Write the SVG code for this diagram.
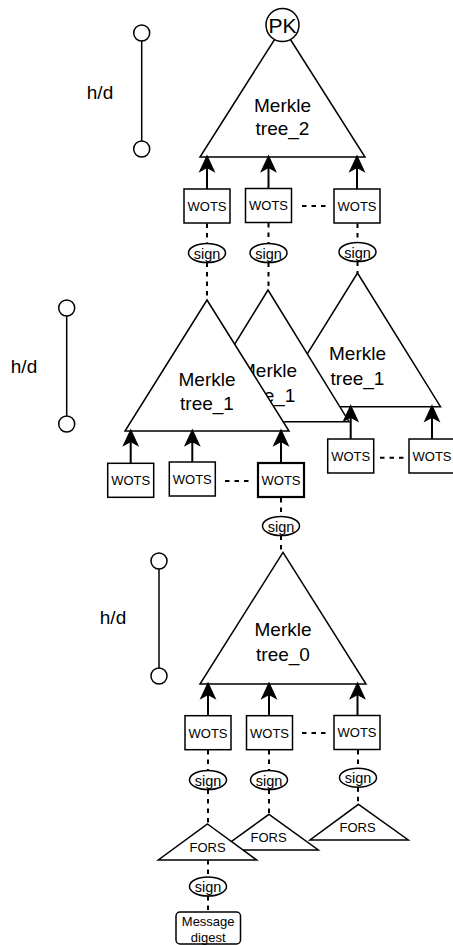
<svg xmlns="http://www.w3.org/2000/svg" width="453" height="945" viewBox="0 0 453 945">
<style>
.tri{fill:#fff;stroke:#000;stroke-width:1.5;stroke-linejoin:miter}
.box{fill:#fff;stroke:#000;stroke-width:1.5}
.box2{fill:#fff;stroke:#000;stroke-width:2.2}
.t{font-family:"Liberation Sans",Arial,Helvetica,sans-serif;text-anchor:middle;dominant-baseline:central;fill:#000}
.m{font-size:19px}
.w{font-size:13px}
.s{font-size:14.5px}
.pk{font-size:21px}
.arr{stroke:#000;stroke-width:2;fill:none;marker-end:url(#ah)}
.dash{stroke:#000;stroke-width:2;stroke-dasharray:4.5 5;fill:none}
.hd{stroke:#000;stroke-width:1.5}
.dot{fill:#fff;stroke:#000;stroke-width:1.5}
.sg{fill:#fff;stroke:#000;stroke-width:1.5}
</style>
<defs>
<marker id="ah" markerUnits="userSpaceOnUse" markerWidth="20" markerHeight="20" viewBox="-6 -8 18 16" refX="0" refY="0" orient="auto">
<path d="M10,0 L-4,-6.5 L-0.5,0 L-4,6.5 Z" fill="#000" stroke="#000" stroke-width="1"/>
</marker>
</defs>
<rect width="453" height="945" fill="#fff"/>

<!-- height indicators -->
<g id="hd1">
<line class="hd" x1="141.7" y1="33" x2="141.7" y2="149"/>
<circle class="dot" cx="141.7" cy="33" r="8"/>
<circle class="dot" cx="141.7" cy="149" r="8"/>
<text class="t m" x="100" y="92">h/d</text>
</g>
<g id="hd2">
<line class="hd" x1="66.7" y1="308" x2="66.7" y2="424"/>
<circle class="dot" cx="66.7" cy="308" r="8"/>
<circle class="dot" cx="66.7" cy="424" r="8"/>
<text class="t m" x="24" y="366">h/d</text>
</g>
<g id="hd3">
<line class="hd" x1="159" y1="561" x2="159" y2="676"/>
<circle class="dot" cx="159" cy="561" r="8"/>
<circle class="dot" cx="159" cy="676" r="8"/>
<text class="t m" x="113" y="617">h/d</text>
</g>

<!-- Layer 2 -->
<g id="tree2">
<polygon class="tri" points="282.5,27 365,157 200,157"/>
<text class="t m" x="282.5" y="105">Merkle</text>
<text class="t m" x="282.5" y="128">tree_2</text>
</g>
<g id="pk">
<circle class="dot" cx="282.5" cy="25" r="16.5"/>
<text class="t pk" x="282.5" y="25.5">PK</text>
</g>
<g id="wots2a"><rect class="box" x="184" y="189" width="46" height="34"/><text class="t w" x="207" y="206.5">WOTS</text></g>
<g id="wots2b"><rect class="box" x="245.5" y="188.5" width="46" height="34"/><text class="t w" x="268.5" y="205.5">WOTS</text></g>
<g id="wots2c"><rect class="box" x="334" y="189" width="46" height="34"/><text class="t w" x="357" y="206.5">WOTS</text></g>
<g id="sign2a"><ellipse class="sg" cx="207" cy="253" rx="18.5" ry="9.5"/><text class="t s" x="207" y="253.5">sign</text></g>
<g id="sign2b"><ellipse class="sg" cx="268.5" cy="253" rx="18.5" ry="9.5"/><text class="t s" x="268.5" y="253.5">sign</text></g>
<g id="sign2c"><ellipse class="sg" cx="357.5" cy="252" rx="18.5" ry="9.5"/><text class="t s" x="357.5" y="252.5">sign</text></g>

<!-- Layer 1 -->
<g id="tree1c">
<polygon class="tri" points="357.5,273 440.5,406.7 274.5,406.7"/>
<text class="t m" x="357.5" y="353">Merkle</text>
<text class="t m" x="357.5" y="378">tree_1</text>
</g>
<g id="tree1b">
<polygon class="tri" points="268,290 349,421.7 187,421.7"/>
<text class="t m" x="268.5" y="370">Merkle</text>
<text class="t m" x="268.5" y="395">tree_1</text>
</g>
<g id="tree1a">
<polygon class="tri" points="207,300 289,431 125,431"/>
<text class="t m" x="207" y="379">Merkle</text>
<text class="t m" x="207" y="403">tree_1</text>
</g>
<g id="wots1a"><rect class="box" x="107.7" y="463.3" width="46" height="34"/><text class="t w" x="130.7" y="480.8">WOTS</text></g>
<g id="wots1b"><rect class="box" x="169.3" y="462" width="46" height="34"/><text class="t w" x="192.3" y="479">WOTS</text></g>
<g id="wots1c"><rect class="box2" x="258" y="463" width="46" height="34"/><text class="t w" x="281" y="480">WOTS</text></g>
<g id="wots1d"><rect class="box" x="327.7" y="439" width="46" height="34"/><text class="t w" x="350.7" y="456">WOTS</text></g>
<g id="wots1e"><rect class="box" x="409" y="439" width="46" height="34"/><text class="t w" x="432" y="456">WOTS</text></g>
<g id="sign1"><ellipse class="sg" cx="281" cy="526" rx="18.5" ry="9.5"/><text class="t s" x="281" y="526.5">sign</text></g>

<!-- Layer 0 -->
<g id="tree0">
<polygon class="tri" points="283,552.3 366,684 200,684"/>
<text class="t m" x="283" y="629">Merkle</text>
<text class="t m" x="283" y="654">tree_0</text>
</g>
<g id="wots0a"><rect class="box" x="185" y="715.7" width="46" height="34"/><text class="t w" x="208" y="733">WOTS</text></g>
<g id="wots0b"><rect class="box" x="246.5" y="715.7" width="46" height="34"/><text class="t w" x="269.5" y="733">WOTS</text></g>
<g id="wots0c"><rect class="box" x="334" y="715.5" width="46" height="34"/><text class="t w" x="357" y="732.5">WOTS</text></g>
<g id="sign0a"><ellipse class="sg" cx="208" cy="780" rx="18.5" ry="9.5"/><text class="t s" x="208" y="780.5">sign</text></g>
<g id="sign0b"><ellipse class="sg" cx="269" cy="780" rx="18.5" ry="9.5"/><text class="t s" x="269" y="780.5">sign</text></g>
<g id="sign0c"><ellipse class="sg" cx="358" cy="777.7" rx="18.5" ry="9.5"/><text class="t s" x="358" y="778.2">sign</text></g>

<!-- FORS -->
<g id="fors3"><polygon class="tri" points="358.5,804.3 408.3,840 310,840"/><text class="t w" x="357.5" y="827.5">FORS</text></g>
<g id="fors2"><polygon class="tri" points="269,814.3 318.3,850 219.7,850"/><text class="t w" x="268.5" y="837">FORS</text></g>
<g id="fors1"><polygon class="tri" points="207.5,824 256.7,860 158.3,860"/><text class="t w" x="207.5" y="847.5">FORS</text></g>
<g id="signf"><ellipse class="sg" cx="208" cy="886.5" rx="18.5" ry="9.5"/><text class="t s" x="208" y="887">sign</text></g>
<g id="msg">
<rect class="box" x="176" y="912" width="64.5" height="32" rx="4" ry="4"/>
<text class="t w" x="208.2" y="921">Message</text>
<text class="t w" x="208.2" y="937">digest</text>
</g>

<!-- connectors -->
<g id="connectors">
<line class="arr" x1="207" y1="189" x2="207" y2="167"/>
<line class="arr" x1="268.5" y1="188.5" x2="268.5" y2="167"/>
<line class="arr" x1="357" y1="189" x2="357" y2="167"/>
<line class="dash" x1="302" y1="206" x2="327" y2="206"/>
<line class="dash" x1="207" y1="223.5" x2="207" y2="243.5"/>
<line class="dash" x1="207" y1="262.5" x2="207" y2="300"/>
<line class="dash" x1="268.5" y1="223" x2="268.5" y2="243.5"/>
<line class="dash" x1="268.5" y1="262.5" x2="268.5" y2="290"/>
<line class="dash" x1="357.5" y1="223.5" x2="357.5" y2="242.5"/>
<line class="dash" x1="357.5" y1="261.5" x2="357.5" y2="273"/>

<line class="arr" x1="130.7" y1="463.3" x2="130.7" y2="441"/>
<line class="arr" x1="192.3" y1="462" x2="192.3" y2="441"/>
<line class="arr" x1="281" y1="463" x2="281" y2="441"/>
<line class="dash" x1="225" y1="481" x2="250" y2="481"/>
<line class="arr" x1="350.7" y1="439" x2="350.7" y2="416.7"/>
<line class="arr" x1="432" y1="439" x2="432" y2="416.7"/>
<line class="dash" x1="380" y1="457.7" x2="405" y2="457.7"/>
<line class="dash" x1="281" y1="498" x2="281" y2="516.5"/>
<line class="dash" x1="281" y1="535.5" x2="281" y2="552.5"/>

<line class="arr" x1="208" y1="715.7" x2="208" y2="694"/>
<line class="arr" x1="269" y1="715.7" x2="269" y2="694"/>
<line class="arr" x1="357.5" y1="715.5" x2="357.5" y2="694"/>
<line class="dash" x1="302" y1="733" x2="327" y2="733"/>
<line class="dash" x1="208" y1="750" x2="208" y2="770.5"/>
<line class="dash" x1="208" y1="789.5" x2="208" y2="824"/>
<line class="dash" x1="269" y1="750" x2="269" y2="770.5"/>
<line class="dash" x1="269" y1="789.5" x2="269" y2="814.3"/>
<line class="dash" x1="358" y1="750" x2="358" y2="768.2"/>
<line class="dash" x1="358" y1="787.2" x2="358" y2="804.3"/>
<line class="dash" x1="208" y1="860" x2="208" y2="877"/>
<line class="dash" x1="208" y1="896" x2="208" y2="912"/>
</g>
</svg>
